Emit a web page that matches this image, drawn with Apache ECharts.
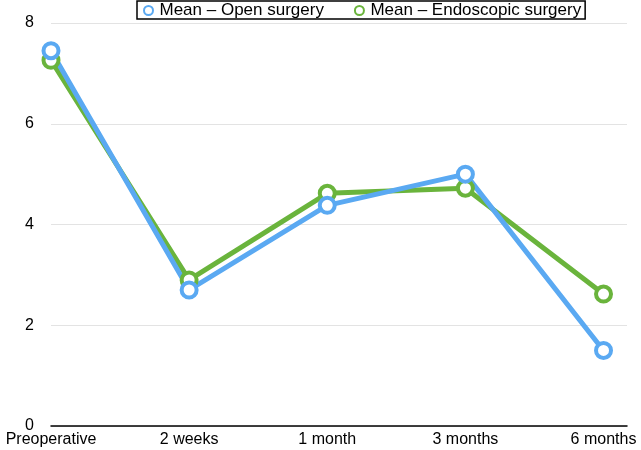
<!DOCTYPE html>
<html><head><meta charset="utf-8">
<script src="https://cdn.jsdelivr.net/npm/echarts@6/dist/echarts.min.js"></script>
<style>html,body{margin:0;padding:0;background:#fff}#c{width:641px;height:450px}</style>
</head><body><div id="c"></div>
<script>
const categories = ['Preoperative', '2 weeks', '1 month', '3 months', '6 months'];
const openSurgery = [7.45, 2.7, 4.38, 5.0, 1.5];
const endoscopicSurgery = [7.26, 2.9, 4.62, 4.72, 2.62];
const yTicks = [0, 2, 4, 6, 8];
const seriesNames = ['Mean – Open surgery', 'Mean – Endoscopic surgery'];

const chart = echarts.init(document.getElementById('c'));
const toPts = arr => arr.map((v, i) => [i, v]);
const font = 'Liberation Sans, Arial, sans-serif';
const mk = (name, data, color) => ({
  name, type: 'line', data: toPts(data),
  symbol: 'circle', symbolSize: 15,
  lineStyle: { color, width: 5 },
  itemStyle: { color: '#fff', borderColor: color, borderWidth: 4 },
  emphasis: { disabled: true }
});
chart.setOption({
  animation: false,
  grid: { left: 51, right: 14, top: 23, bottom: 24, containLabel: false },
  legend: {
    top: 1, left: 137, data: seriesNames,
    borderColor: '#000', borderWidth: 1.5, padding: [1, 4, 0, 6],
    itemWidth: 12, itemHeight: 9, itemGap: 30,
    textStyle: { fontFamily: font, fontSize: 17, color: '#000' },
    icon: 'circle'
  },
  xAxis: {
    type: 'value', min: 0, max: 4.17, interval: 1,
    axisLine: { show: true, lineStyle: { color: '#000', width: 1.5 } },
    axisTick: { show: false }, splitLine: { show: false },
    axisLabel: { showMaxLabel: false, color: '#000', fontFamily: font, fontSize: 16, margin: 6,
      formatter: v => categories[Math.round(v)] !== undefined && Math.abs(v - Math.round(v)) < 1e-6 ? categories[Math.round(v)] : '' }
  },
  yAxis: {
    type: 'value', min: yTicks[0], max: yTicks[yTicks.length - 1], interval: 2,
    axisLine: { show: false }, axisTick: { show: false },
    splitLine: { lineStyle: { color: '#e3e3e3', width: 1 } },
    axisLabel: { color: '#000', fontFamily: font, fontSize: 16, margin: 17 }
  },
  series: [
    mk(seriesNames[1], endoscopicSurgery, '#6ab43c'),
    mk(seriesNames[0], openSurgery, '#5aa9f2')
  ]
});
</script></body></html>
